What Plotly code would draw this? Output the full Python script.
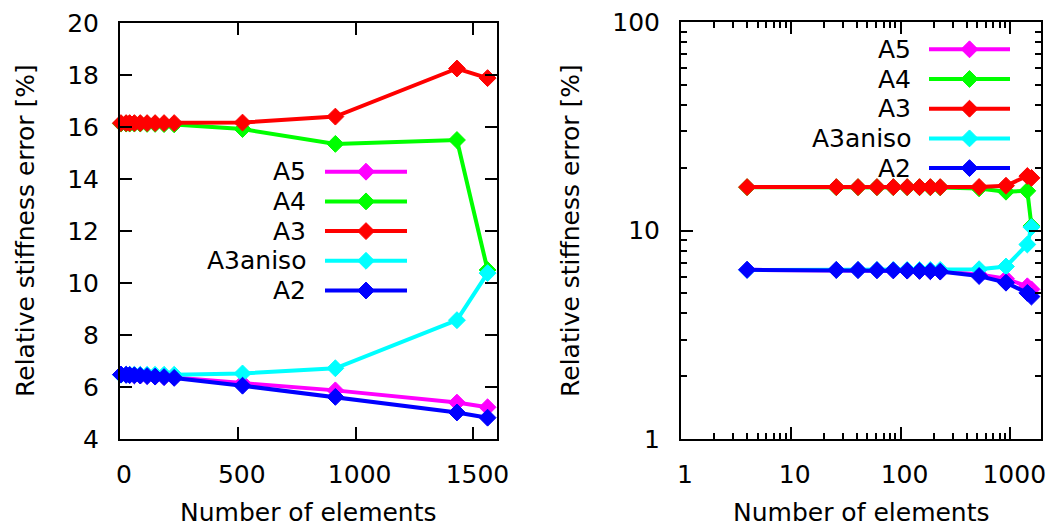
import plotly.graph_objects as go

# ---- data ----
n_elements = [4, 26, 41, 61, 86, 115, 149, 187, 230, 520, 914, 1430, 1560]
series_names = ["A5", "A4", "A3", "A3aniso", "A2"]
A5 = [6.48, 6.47, 6.46, 6.45, 6.44, 6.43, 6.41, 6.39, 6.37, 6.15, 5.87, 5.40, 5.22]
A4 = [16.13, 16.13, 16.13, 16.13, 16.13, 16.12, 16.12, 16.11, 16.10, 15.92, 15.35, 15.50, 10.50]
A3 = [16.15, 16.15, 16.15, 16.15, 16.15, 16.15, 16.15, 16.15, 16.15, 16.17, 16.40, 18.25, 17.88]
A3aniso = [6.47, 6.47, 6.47, 6.47, 6.47, 6.47, 6.47, 6.47, 6.47, 6.52, 6.72, 8.57, 10.38]
A2 = [6.48, 6.47, 6.46, 6.45, 6.44, 6.42, 6.40, 6.38, 6.35, 6.05, 5.62, 5.02, 4.82]
series_values = [A5, A4, A3, A3aniso, A2]
colors = ["#ff00ff", "#00ff00", "#ff0000", "#00ffff", "#0000ff"]

left_xticks = [0, 500, 1000, 1500]
left_yticks = [4, 6, 8, 10, 12, 14, 16, 18, 20]
log_xticks = [1, 10, 100, 1000]
log_yticks = [1, 10, 100]
log_minor_x = [m * d for d in (1, 10, 100, 1000) for m in range(2, 10)]
log_minor_y = [m * d for d in (1, 10) for m in range(2, 10)]

FONT = "DejaVu Sans"
FS = 25
W, H = 1049, 526
MS = 13

fig = go.Figure()

for name, vals, col in zip(series_names, series_values, colors):
    for xa, ya in (("x", "y"), ("x2", "y2")):
        fig.add_trace(go.Scatter(
            x=n_elements, y=vals, mode="lines+markers", name=name,
            line=dict(color=col, width=4),
            marker=dict(symbol="diamond", size=MS, color=col, opacity=1,
                        line=dict(color=col, width=1)),
            xaxis=xa, yaxis=ya, showlegend=False, cliponaxis=False))

# ---- manual legends (text right, sample to the right) on a pixel overlay axis ----
legend_specs = [
    dict(text_right=308, x0=325, x1=407, y0=171.7),
    dict(text_right=913, x0=929, x1=1010, y0=49.3),
]
row_gap = 29.7
for spec in legend_specs:
    for i, (name, col) in enumerate(zip(series_names, colors)):
        y = spec["y0"] + i * row_gap
        xm = (spec["x0"] + spec["x1"]) / 2
        fig.add_trace(go.Scatter(
            x=[spec["x0"], xm, spec["x1"]], y=[y, y, y], mode="lines+markers",
            line=dict(color=col, width=4),
            marker=dict(symbol="diamond", size=[0, MS, 0], color=col, opacity=1,
                        line=dict(color=col, width=[0, 1, 0])),
            xaxis="x3", yaxis="y3", showlegend=False, hoverinfo="skip"))
        fig.add_annotation(x=spec["text_right"], y=y, xref="x3", yref="y3",
                           text=name, showarrow=False, xanchor="right",
                           yanchor="middle", font=dict(family=FONT, size=FS, color="black"))

ax_common = dict(showline=True, linecolor="black", linewidth=2, mirror="ticks",
                 ticks="inside", ticklen=12, tickwidth=1.5, tickcolor="black",
                 showgrid=False, zeroline=False, automargin=False,
                 tickfont=dict(family=FONT, size=FS, color="black"))

fig.update_layout(
    template="none",
    width=W, height=H, margin=dict(l=0, r=0, t=0, b=0, pad=0),
    paper_bgcolor="white", plot_bgcolor="rgba(0,0,0,0)", showlegend=False,
    xaxis=dict(domain=[120 / W, 497 / W], range=[0, 1600], tickmode="array",
               tickvals=left_xticks, anchor="y", ticklabelstandoff=12, ticklabelshift=4,
               **ax_common),
    yaxis=dict(domain=[(H - 439) / H, (H - 23) / H], range=[4, 20], tickmode="array",
               tickvals=left_yticks, anchor="x", ticklabelstandoff=14, **ax_common),
    xaxis2=dict(domain=[681 / W, 1041 / W], type="log", range=[0, 3.28], tickmode="array",
                tickvals=log_xticks, anchor="y2", ticklabelstandoff=12, ticklabelshift=4,
                minor=dict(tickmode="array", tickvals=log_minor_x, ticks="inside",
                           ticklen=6, tickwidth=1.5, tickcolor="black", showgrid=False),
                **ax_common),
    yaxis2=dict(domain=[(H - 439) / H, (H - 22) / H], type="log", range=[0, 2], tickmode="array",
                tickvals=log_yticks, anchor="x2", ticklabelstandoff=14,
                minor=dict(tickmode="array", tickvals=log_minor_y, ticks="inside",
                           ticklen=6, tickwidth=1.5, tickcolor="black", showgrid=False),
                **ax_common),
    xaxis3=dict(domain=[0, 1], range=[0, W], visible=False, fixedrange=True, anchor="y3",
                automargin=False),
    yaxis3=dict(domain=[0, 1], range=[H, 0], visible=False, fixedrange=True, anchor="x3",
                automargin=False),
)

# axis titles
for xc, yc, txt, ang in [(308, 512, "Number of elements", 0), (861, 512, "Number of elements", 0),
                         (25, 231, "Relative stiffness error [%]", -90),
                         (570, 231, "Relative stiffness error [%]", -90)]:
    fig.add_annotation(x=xc, y=yc, xref="x3", yref="y3", text=txt, showarrow=False,
                       textangle=ang, xanchor="center", yanchor="middle",
                       font=dict(family=FONT, size=FS, color="black"))

fig.write_html("out.html")
